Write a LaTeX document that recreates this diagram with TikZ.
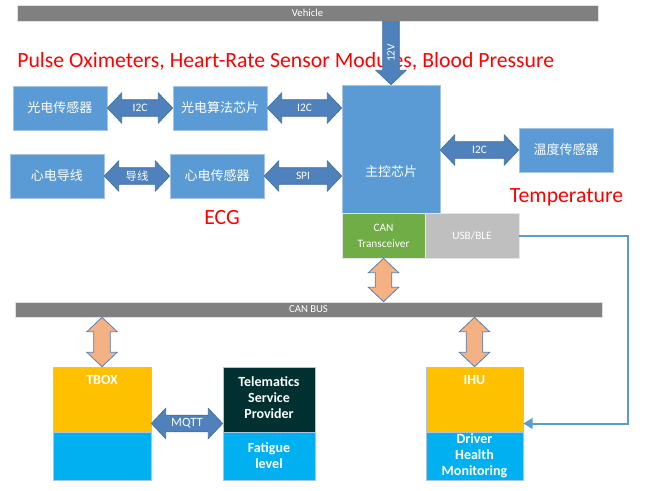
\documentclass[tikz,border=0pt]{standalone}
\usepackage{fontspec}
\setmainfont{Carlito}
\newfontfamily\cjk{Noto Sans CJK SC}
\usetikzlibrary{calc,arrows.meta}

\definecolor{boxblue}{HTML}{5B9BD5}
\definecolor{boxline}{HTML}{A9C3E2}
\definecolor{arrowblue}{HTML}{4F81BD}
\definecolor{arrowline}{HTML}{41719C}
\definecolor{peach}{HTML}{F4B183}
\definecolor{busgray}{HTML}{808080}
\definecolor{amber}{HTML}{FFC000}
\definecolor{skyblue}{HTML}{00B0F0}
\definecolor{darkteal}{HTML}{00302F}
\definecolor{cangreen}{HTML}{70AD47}
\definecolor{usbgray}{HTML}{BFBFBF}

\newcommand{\fathw}{11.4pt}
\newcommand{\fatsw}{6.2pt}
\newcommand{\fathl}{10.8pt}

\tikzstyle{block} = [draw=boxline,line width=0.5pt,fill=boxblue,text=white,font=\cjk\fontsize{9.75}{12}\selectfont,minimum width=70.5pt,minimum height=33pt,inner sep=0pt]
\tikzstyle{bus} = [draw=black!12,line width=0.5pt,fill=busgray,text=white,font=\fontsize{8}{9}\selectfont,minimum height=12pt,inner sep=0pt]
\tikzstyle{port} = [draw=black!10,line width=0.5pt,text=white,font=\fontsize{8.5}{12}\selectfont,align=center,minimum height=33.75pt,inner sep=0pt]
\tikzstyle{unit} = [draw=boxline,line width=0.5pt,minimum height=84.75pt,inner sep=0pt]
\tikzstyle{head} = [text=white,font=\bfseries\fontsize{10.5}{12}\selectfont,align=center]
\tikzstyle{note} = [text=red,font=\fontsize{16.3}{18}\selectfont,inner sep=0pt]
\tikzstyle{lbl} = [text=white,font=\fontsize{8.5}{9}\selectfont,inner sep=0pt]
\tikzstyle{bluefat} = [fill=arrowblue,draw=arrowline,line width=0.5pt]
\tikzstyle{peachfat} = [fill=peach,draw=arrowblue,line width=0.6pt]
\tikzstyle{link} = [draw=boxblue,line width=1.5pt,-{Triangle[length=7pt,width=8pt]}]
\tikzstyle{hfat} = [to path={let \p1=(\tikztostart), \p2=(\tikztotarget) in
  (\x1,\y1) -- (\x1+\fathl,\y1+\fathw) -- (\x1+\fathl,\y1+\fatsw) -- (\x2-\fathl,\y1+\fatsw)
  -- (\x2-\fathl,\y1+\fathw) -- (\x2,\y1) -- (\x2-\fathl,\y1-\fathw) -- (\x2-\fathl,\y1-\fatsw)
  -- (\x1+\fathl,\y1-\fatsw) -- (\x1+\fathl,\y1-\fathw) -- cycle}]
\tikzstyle{vfat} = [to path={let \p1=(\tikztostart), \p2=(\tikztotarget) in
  (\x1,\y1) -- (\x1+\fathw,\y1-\fathl) -- (\x1+\fatsw,\y1-\fathl) -- (\x1+\fatsw,\y2+\fathl)
  -- (\x1+\fathw,\y2+\fathl) -- (\x1,\y2) -- (\x1-\fathw,\y2+\fathl) -- (\x1-\fatsw,\y2+\fathl)
  -- (\x1-\fatsw,\y1-\fathl) -- (\x1-\fathw,\y1-\fathl) -- cycle}]
\tikzstyle{vone} = [to path={let \p1=(\tikztostart), \p2=(\tikztotarget) in
  (\x1-\fatsw,\y1) -- (\x1+\fatsw,\y1) -- (\x1+\fatsw,\y2+\fathl) -- (\x1+\fathw,\y2+\fathl)
  -- (\x1,\y2) -- (\x1-\fathw,\y2+\fathl) -- (\x1-\fatsw,\y2+\fathl) -- cycle}]

\begin{document}
\begin{tikzpicture}[x=0.75pt,y=-0.75pt]
  \useasboundingbox (0,0) rectangle (658,490);

  % bars
  \node[bus, minimum width=435.75pt] (vehicle) at (307.5,13) {Vehicle};
  \node[bus, minimum width=440.25pt, minimum height=11.25pt] (canbus) at (308.5,309.5) {CAN BUS};

  \node[note, anchor=west] (ppgnote) at (17,61) {Pulse Oximeters, Heart-Rate Sensor Modules, Blood Pressure};
  \node[note] (ecgnote) at (222,218) {ECG};
  \node[note] (tempnote) at (566.5,197) {Temperature};

  % sensors and chips
  \foreach \nodename/\txt/\x/\y in {
    opt/光电传感器/60/108, alg/光电算法芯片/220/108,
    lead/心电导线/57/176, ecg/心电传感器/217/176,
    temp/温度传感器/566/150}
  {
    \node[block] (\nodename) at (\x,\y) {\txt};
  }
  \node[block, minimum width=73.5pt, minimum height=129.75pt] (mcu) at (391,171.5) {主控芯片};
  \node[port, fill=cangreen, minimum width=62.25pt] (can) at (383.5,235.5) {CAN\\Transceiver};
  \node[port, fill=usbgray, minimum width=70.5pt] (usb) at (472,235.5) {USB/BLE};

  % car units
  \foreach \nodename/\color/\w/\x in {
    tbox/amber/73.5pt/102, tsp/darkteal/69pt/269, ihu/amber/72.75pt/474.5}
  {
    \node[unit, fill=\color, minimum width=\w] (\nodename) at (\x,423.5) {};
    \node[unit, fill=skyblue, minimum width=\w, minimum height=36pt, anchor=south] (\nodename-b) at (\nodename.south) {};
  }
  \node[head, below=3pt] at (tbox.north) {TBOX};
  \node[head, below=3pt] at (ihu.north) {IHU};
  \node[head] at ($(tsp.north)!0.47!(tsp-b.north)$) {Telematics\\Service\\Provider};
  \node[head] at (tsp-b) {Fatigue\\level};
  \node[head] at (ihu-b) {Driver\\Health\\Monitoring};

  %edges or lines
  \foreach \s/\t/\l in {
    opt.east/alg.west/I2C, alg.east/alg.east -| mcu.west/I2C,
    lead.east/ecg.west/{\cjk 导线}, ecg.east/ecg.east -| mcu.west/SPI,
    temp.west -| mcu.east/temp.west/I2C,
    tbox.east/tsp.west/{\fontsize{9.5}{10}\selectfont MQTT}}
  {
    \draw[bluefat] (\s) to[hfat] (\t);
    \path (\s) -- node[lbl] {\l} (\t);
  }

  \foreach \s/\t in {
    can.south/can.south |- canbus.north,
    canbus.south -| tbox.north/tbox.north,
    canbus.south -| ihu.north/ihu.north}
  {
    \draw[peachfat] (\s) to[vfat] (\t);
  }

  \draw[bluefat] (vehicle.south -| mcu.north) to[vone] (mcu.north);
  \path (vehicle.south -| mcu.north) -- node[lbl, rotate=90] {12V} (mcu.north);

  \draw[link] (usb.east) -- ++(109,0) |- (ihu.east);

\end{tikzpicture}
\end{document}
